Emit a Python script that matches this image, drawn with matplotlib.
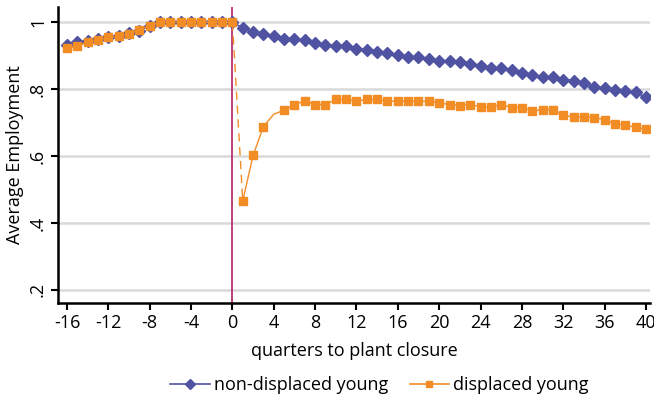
import matplotlib
matplotlib.use("Agg")
import matplotlib.pyplot as plt
import numpy as np
from matplotlib.lines import Line2D

plt.rcParams['font.family'] = ['Open Sans', 'DejaVu Sans']

quarters = list(range(-16, 41))

non_displaced = [
    0.932, 0.940, 0.943, 0.949, 0.957, 0.960, 0.968, 0.975, 0.990,
    1.0, 1.0, 1.0, 1.0, 1.0, 1.0, 1.0, 1.0,
    0.983, 0.971, 0.966, 0.958, 0.950, 0.949, 0.946, 0.937, 0.931, 0.928,
    0.929, 0.921, 0.917, 0.911, 0.909, 0.902, 0.897, 0.896, 0.889, 0.884,
    0.884, 0.882, 0.876, 0.869, 0.862, 0.862, 0.857, 0.849, 0.843, 0.835,
    0.835, 0.828, 0.825, 0.819, 0.807, 0.803, 0.797, 0.795, 0.791, 0.775,
]

displaced = [
    0.924, 0.929, 0.940, 0.946, 0.955, 0.958, 0.966, 0.978, 0.990,
    1.0, 1.0, 1.0, 1.0, 1.0, 1.0, 1.0, 1.0,
    0.466, 0.602, 0.688, 0.725, 0.737, 0.754, 0.764, 0.754, 0.754, 0.769,
    0.769, 0.764, 0.769, 0.769, 0.764, 0.764, 0.764, 0.764, 0.764, 0.759,
    0.754, 0.751, 0.754, 0.747, 0.747, 0.754, 0.745, 0.745, 0.735, 0.739,
    0.737, 0.722, 0.717, 0.717, 0.715, 0.709, 0.696, 0.692, 0.686, 0.680,
]

xticks = list(range(-16, 41, 4))
yticks = [0.2, 0.4, 0.6, 0.8, 1.0]
ytick_labels = [".2", ".4", ".6", ".8", "1"]

blue = '#5052a2'
orange = '#f28c24'
fs = 13

fig = plt.figure(figsize=(6.54, 3.99), dpi=100)
ax = fig.add_axes([0.089, 0.241, 0.905, 0.741])

q = np.array(quarters)
nd = np.array(non_displaced)
d = np.array(displaced)

ax.axvline(0, color='#b8306e', lw=1.3, zorder=1)

ax.plot(q, nd, color=blue, lw=1.2, marker='D', markersize=5.8,
        markeredgecolor=blue, zorder=3)

pre = q <= 0
ax.plot(q[pre], d[pre], color=orange, lw=1.0, marker='s', markersize=6.2,
        markeredgecolor=orange, zorder=4)
seg = (q >= 0) & (q <= 1)
ax.plot(q[seg], d[seg], color=orange, lw=1.0, ls=(0, (6, 4)), zorder=4)
post = q >= 1
ax.plot(q[post], d[post], color=orange, lw=1.0, zorder=4)
mk = post & (q != 4)
ax.plot(q[mk], d[mk], ls='none', marker='s', markersize=6.2, color=orange, zorder=4)

ax.set_xlim(-16.85, 40.4)
ax.set_ylim(0.161, 1.045)
ax.set_xticks(xticks)
ax.set_xticklabels([str(t) for t in xticks])
ax.set_yticks(yticks)
ax.set_yticklabels(ytick_labels, rotation=90, va='center')

ax.yaxis.grid(True, color='#d9d9d9', lw=1.8, zorder=0)
ax.set_axisbelow(True)
for s in ['top', 'right']:
    ax.spines[s].set_visible(False)
ax.spines['left'].set_linewidth(1.8)
ax.spines['bottom'].set_linewidth(1.8)
ax.tick_params(axis='both', direction='out', length=5, width=1.5, labelsize=fs, pad=3)

ax.set_xlabel('quarters to plant closure', fontsize=fs, labelpad=7)
ax.set_ylabel('Average Employment', fontsize=fs, labelpad=4)

h1 = Line2D([], [], color=blue, lw=1.2, marker='D', markersize=5)
h2 = Line2D([], [], color=orange, lw=1.2, marker='s', markersize=5)
fig.legend([h1, h2], ['non-displaced young', 'displaced young'], ncol=2,
           loc='center', bbox_to_anchor=(0.58, 0.035), frameon=False,
           fontsize=fs, handlelength=2.2, handletextpad=0.2, columnspacing=1.2)

fig.savefig('out.png', dpi=100)
